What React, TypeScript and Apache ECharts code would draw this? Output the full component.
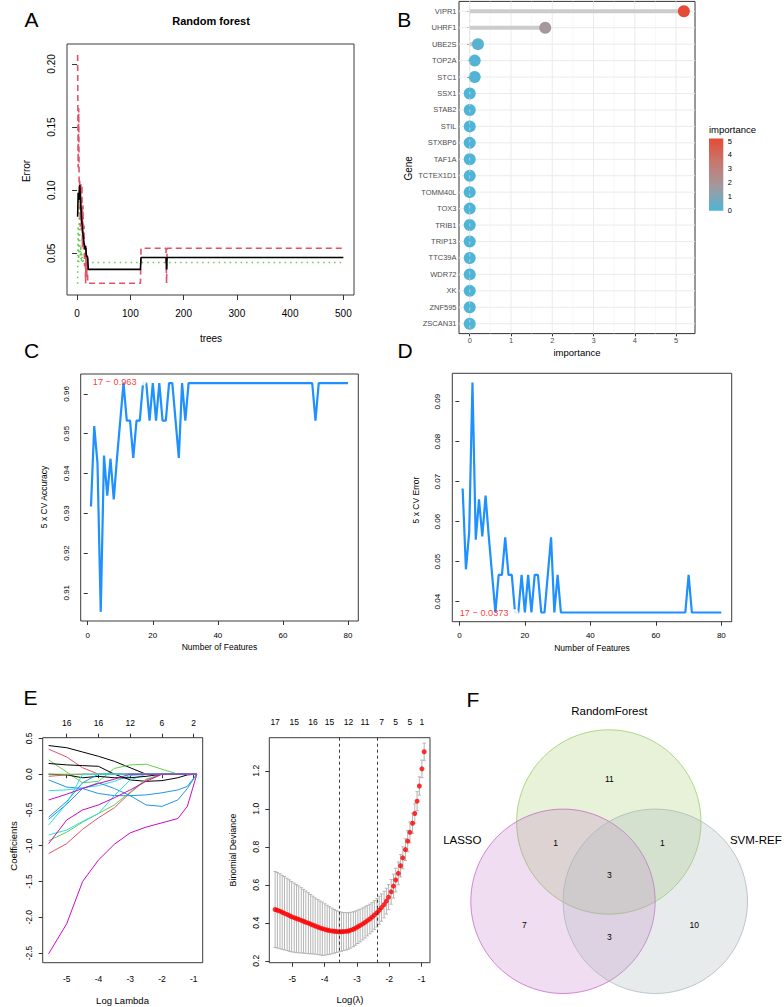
import React, { useEffect, useRef } from 'react';
import * as echarts from 'echarts';

const FONT = '"Liberation Sans", Arial, Helvetica, sans-serif';

// ---------- Panel A: random forest error ----------
const treesEarly = [1, 2, 3, 4, 5, 6, 7, 8, 9, 10, 11, 12, 13, 14, 15, 16, 17, 18, 19, 20, 21];
const oobEarly = [0.079, 0.098, 0.092, 0.097, 0.104, 0.095, 0.088, 0.080, 0.074, 0.070, 0.065, 0.062, 0.058, 0.056, 0.053, 0.056, 0.050, 0.047, 0.048, 0.046, 0.0373];
const class1Early = [0.207, 0.118, 0.165, 0.095, 0.108, 0.071, 0.105, 0.068, 0.104, 0.055, 0.088, 0.052, 0.072, 0.040, 0.056, 0.0263, 0.055, 0.030, 0.048, 0.0263, 0.0263];
const class2Early = [0.026, 0.072, 0.043, 0.095, 0.061, 0.048, 0.056, 0.043, 0.050, 0.043, 0.046, 0.0428, 0.0428, 0.0428, 0.0428, 0.0428, 0.0428, 0.0428, 0.0428, 0.0428, 0.0428];
const oobLate = [[21, 0.0373], [119, 0.0373], [120, 0.0467], [167, 0.0467], [168, 0.0373], [169, 0.0467], [500, 0.0467]];
const class1Late = [[21, 0.0263], [119, 0.0263], [120, 0.054], [167, 0.054], [168, 0.0263], [169, 0.054], [500, 0.054]];
const class2Late = [[21, 0.0428], [500, 0.0428]];
const treeTicks = [0, 100, 200, 300, 400, 500];
const errorTicks = [0.05, 0.10, 0.15, 0.20];

// ---------- Panel B: importance lollipop ----------
const genes = ['VIPR1', 'UHRF1', 'UBE2S', 'TOP2A', 'STC1', 'SSX1', 'STAB2', 'STIL', 'STXBP6', 'TAF1A', 'TCTEX1D1', 'TOMM40L', 'TOX3', 'TRIB1', 'TRIP13', 'TTC39A', 'WDR72', 'XK', 'ZNF595', 'ZSCAN31'];
const importance = [5.19, 1.83, 0.2, 0.12, 0.12, 0, 0, 0, 0, 0, 0, 0, 0, 0, 0, 0, 0, 0, 0, 0];
const importanceTicks = [0, 1, 2, 3, 4, 5];
const importanceMinor = [0.5, 1.5, 2.5, 3.5, 4.5];
const importanceColors = ['#4EB5D6', '#A3999E', '#C6786F', '#E64B35'];

// ---------- Panels C/D: SVM-RFE ----------
const nFeatures = Array.from({ length: 80 }, (_, i) => i + 1);
const cvAccuracy = [
  0.9317, 0.9519, 0.9426, 0.9052, 0.9445, 0.9344, 0.9437, 0.9335, 0.9439, 0.9533,
  0.9627, 0.9533, 0.9533, 0.9439, 0.9533, 0.9533, 0.9627, 0.9627, 0.9533, 0.9627,
  0.9533, 0.9627, 0.9533, 0.9533, 0.9627, 0.9627, 0.9533, 0.9439, 0.9627, 0.9533,
  0.9627, 0.9627, 0.9627, 0.9627, 0.9627, 0.9627, 0.9627, 0.9627, 0.9627, 0.9627,
  0.9627, 0.9627, 0.9627, 0.9627, 0.9627, 0.9627, 0.9627, 0.9627, 0.9627, 0.9627,
  0.9627, 0.9627, 0.9627, 0.9627, 0.9627, 0.9627, 0.9627, 0.9627, 0.9627, 0.9627,
  0.9627, 0.9627, 0.9627, 0.9627, 0.9627, 0.9627, 0.9627, 0.9627, 0.9627, 0.9533,
  0.9627, 0.9627, 0.9627, 0.9627, 0.9627, 0.9627, 0.9627, 0.9627, 0.9627, 0.9627,
];
const cvError = [
  0.0683, 0.0481, 0.0574, 0.0948, 0.0555, 0.0656, 0.0563, 0.0665, 0.0561, 0.0467,
  0.0373, 0.0467, 0.0467, 0.0561, 0.0467, 0.0467, 0.0373, 0.0373, 0.0467, 0.0373,
  0.0467, 0.0373, 0.0467, 0.0467, 0.0373, 0.0373, 0.0467, 0.0561, 0.0373, 0.0467,
  0.0373, 0.0373, 0.0373, 0.0373, 0.0373, 0.0373, 0.0373, 0.0373, 0.0373, 0.0373,
  0.0373, 0.0373, 0.0373, 0.0373, 0.0373, 0.0373, 0.0373, 0.0373, 0.0373, 0.0373,
  0.0373, 0.0373, 0.0373, 0.0373, 0.0373, 0.0373, 0.0373, 0.0373, 0.0373, 0.0373,
  0.0373, 0.0373, 0.0373, 0.0373, 0.0373, 0.0373, 0.0373, 0.0373, 0.0373, 0.0467,
  0.0373, 0.0373, 0.0373, 0.0373, 0.0373, 0.0373, 0.0373, 0.0373, 0.0373, 0.0373,
];
const bestN = 17;
const bestAccuracy = 0.963;
const bestError = 0.0373;
const featureTicks = [0, 20, 40, 60, 80];
const accuracyTicks = [0.91, 0.92, 0.93, 0.94, 0.95, 0.96];
const cvErrorTicks = [0.04, 0.05, 0.06, 0.07, 0.08, 0.09];

// ---------- Panel E left: LASSO coefficient paths ----------
const lassoLogLambda = [-5.57, -5, -4.5, -4, -3.5, -3, -2.5, -2, -1.5, -1.2, -0.9];
const lassoCoefs = [
  [0.40, 0.37, 0.31, 0.25, 0.18, 0.09, 0.00, 0, 0, 0, 0],
  [0.35, 0.24, 0.09, 0, 0, 0, 0, 0, 0, 0, 0],
  [0.20, 0.03, -0.12, -0.10, 0.08, 0.13, 0.14, 0.07, 0, 0, 0],
  [-0.08, -0.18, -0.20, -0.27, -0.30, -0.30, -0.29, -0.26, -0.22, -0.17, 0],
  [-0.23, -0.22, -0.19, -0.16, -0.10, -0.02, 0, 0, 0, 0, 0],
  [-2.51, -2.09, -1.50, -1.20, -0.98, -0.82, -0.74, -0.68, -0.62, -0.45, 0],
  [0.15, 0.13, 0.12, 0.11, 0.00, -0.08, -0.10, -0.09, -0.05, -0.01, 0],
  [-1.11, -0.97, -0.77, -0.61, -0.47, -0.26, -0.08, 0, 0, 0, 0],
  [-0.93, -0.81, -0.67, -0.55, -0.43, -0.25, -0.07, 0, 0, 0, 0],
  [-0.63, -0.42, -0.20, -0.12, -0.20, -0.30, -0.43, -0.45, -0.36, -0.20, 0],
  [-0.85, -0.78, -0.66, -0.55, -0.30, -0.08, 0, 0, 0, 0, 0],
  [-0.97, -0.64, -0.50, -0.43, -0.33, -0.22, -0.10, 0, 0, 0, 0],
  [0.00, -0.01, -0.05, -0.03, -0.05, -0.05, -0.03, 0, 0, 0, 0],
  [-0.03, -0.01, 0, 0, 0, 0, 0, 0, 0, 0, 0],
  [0, 0, 0, 0, 0, 0, 0, 0, 0, 0, 0],
  [-0.60, -0.38, -0.12, 0, 0, 0, 0, 0, 0, 0, 0],
  [-0.71, -0.41, 0, 0, 0, 0, 0, 0, 0, 0, 0],
  [-0.36, -0.28, -0.20, -0.13, -0.07, 0, 0, 0, 0, 0, 0],
];
const lassoColors = ['#000000', '#DF536B', '#61D04F', '#2297E6', '#28E2E5', '#CD0BBC'];
const lassoTicks = [-5, -4, -3, -2, -1];
const lassoTopLabels = ['16', '16', '12', '6', '2'];
const coefTicks = [-2.5, -2.0, -1.5, -1.0, -0.5, 0.0, 0.5];

// ---------- Panel E right: cv.glmnet deviance ----------
const cvLogLambda = [
  -5.53, -5.46, -5.38, -5.31, -5.24, -5.16, -5.09, -5.02, -4.94, -4.87,
  -4.80, -4.72, -4.65, -4.58, -4.50, -4.43, -4.36, -4.29, -4.21, -4.14,
  -4.07, -3.99, -3.92, -3.85, -3.77, -3.70, -3.63, -3.55, -3.48, -3.41,
  -3.33, -3.26, -3.19, -3.11, -3.04, -2.97, -2.90, -2.82, -2.75, -2.68,
  -2.60, -2.53, -2.46, -2.38, -2.31, -2.24, -2.16, -2.09, -2.02, -1.94,
  -1.87, -1.80, -1.72, -1.65, -1.58, -1.50, -1.43, -1.36, -1.28, -1.21,
  -1.14, -1.07, -0.99, -0.92,
];
const cvDeviance = [
  0.470, 0.466, 0.461, 0.455, 0.450, 0.444, 0.438, 0.432, 0.427, 0.422,
  0.418, 0.413, 0.408, 0.403, 0.398, 0.393, 0.388, 0.383, 0.378, 0.373,
  0.369, 0.365, 0.362, 0.359, 0.357, 0.355, 0.354, 0.353, 0.353, 0.354,
  0.355, 0.357, 0.361, 0.366, 0.372, 0.379, 0.386, 0.394, 0.402, 0.411,
  0.420, 0.430, 0.441, 0.453, 0.466, 0.480, 0.496, 0.514, 0.535, 0.563,
  0.593, 0.625, 0.660, 0.700, 0.742, 0.785, 0.830, 0.876, 0.924, 0.975,
  1.040, 1.120, 1.210, 1.300,
];
const cvDevianceSd = [
  0.200, 0.199, 0.197, 0.195, 0.193, 0.190, 0.188, 0.185, 0.182, 0.179,
  0.176, 0.172, 0.168, 0.164, 0.160, 0.156, 0.152, 0.148, 0.145, 0.142,
  0.140, 0.135, 0.130, 0.125, 0.120, 0.115, 0.110, 0.106, 0.103, 0.100,
  0.098, 0.096, 0.094, 0.092, 0.090, 0.088, 0.086, 0.084, 0.082, 0.080,
  0.078, 0.077, 0.076, 0.075, 0.074, 0.072, 0.070, 0.068, 0.066, 0.065,
  0.063, 0.062, 0.060, 0.059, 0.058, 0.057, 0.056, 0.055, 0.053, 0.051,
  0.050, 0.048, 0.046, 0.045,
];
const lambdaMinLog = -3.55;
const lambda1seLog = -2.38;
const cvTopPositions = [-5.53, -4.94, -4.36, -3.85, -3.26, -2.75, -2.24, -1.80, -1.36, -0.99];
const cvTopLabels = ['17', '15', '16', '15', '12', '11', '7', '5', '5', '1'];
const devianceTicks = [0.2, 0.4, 0.6, 0.8, 1.0, 1.2];

// ---------- Panel F: Venn ----------
const vennSets = ['RandomForest', 'LASSO', 'SVM-REF'];
const vennRegions = ['RF only', 'LASSO only', 'SVM only', 'RF&LASSO', 'RF&SVM', 'LASSO&SVM', 'all'];
const vennCounts = [11, 7, 10, 1, 1, 3, 3];

function buildOption() {
  const grids: any[] = [
    { left: 67, top: 44, width: 287, height: 251 }, // 0 A
    { left: 459, top: 1.4, width: 236, height: 332.2 }, // 1 B
    { left: 709, top: 138.4, width: 14.3, height: 72.3 }, // 2 colorbar
    { left: 80.7, top: 374, width: 277.6, height: 247 }, // 3 C
    { left: 452.3, top: 373.3, width: 279.4, height: 248.4 }, // 4 D
    { left: 42.7, top: 737.7, width: 160, height: 225 }, // 5 E left
    { left: 269.3, top: 737.7, width: 160.7, height: 225 }, // 6 E right
  ].map((g, i) => ({
    ...g,
    show: i !== 2,
    borderColor: i === 1 ? '#333' : '#3a3a3a',
    borderWidth: 1,
    backgroundColor: 'transparent',
    containLabel: false,
  }));

  const rAxis = (kind: 'x' | 'y', gridIndex: number, min: number, max: number, ticks: number[], fmt: (v: number) => string, o: any = {}) => ({
    type: 'value',
    gridIndex,
    min,
    max,
    position: o.position,
    inverse: o.inverse || false,
    axisLine: { show: false },
    axisTick: {
      show: o.tick !== false,
      customValues: ticks,
      length: o.tickLen ?? 4,
      inside: o.tickInside || false,
      lineStyle: { color: o.tickColor || '#333', width: 1 },
    },
    axisLabel: {
      show: o.label !== false,
      customValues: ticks,
      formatter: fmt,
      fontSize: o.fontSize ?? 10,
      color: o.color || '#000',
      fontFamily: FONT,
      margin: o.margin ?? 8,
      rotate: o.rotate || 0,
    },
    splitLine: { show: false },
  });

  const xAxes: any[] = [
    rAxis('x', 0, -18.96, 519.96, treeTicks, (v) => String(v), { tickLen: 5, margin: 13, fontSize: 10 }), // 0
    rAxis('x', 1, -0.26, 5.46, importanceTicks, (v) => String(v), { tickLen: 2.75, margin: 2.5, fontSize: 7.5, color: '#4D4D4D' }), // 1
    { type: 'category', gridIndex: 2, data: ['importance'], show: false, boundaryGap: true }, // 2
    rAxis('x', 3, -2.16, 83.16, featureTicks, (v) => String(v), { tickLen: 4, margin: 10, fontSize: 8 }), // 3
    rAxis('x', 4, -2.16, 83.16, featureTicks, (v) => String(v), { tickLen: 4, margin: 10, fontSize: 8 }), // 4
    rAxis('x', 5, -5.757, -0.716, lassoTicks, (v) => String(v), { tickLen: 4, margin: 12, fontSize: 8.5 }), // 5
    rAxis('x', 5, -5.757, -0.716, lassoTicks, (v) => lassoTopLabels[lassoTicks.indexOf(v)] ?? '', { position: 'top', tickLen: 4, margin: 10, fontSize: 8.5 }), // 6
    rAxis('x', 6, -5.71, -0.74, lassoTicks, (v) => String(v), { tickLen: 4, margin: 12, fontSize: 8.5 }), // 7
    rAxis('x', 6, -5.71, -0.74, cvTopPositions, (v) => cvTopLabels[cvTopPositions.indexOf(v)] ?? '', { position: 'top', tick: false, margin: 11, fontSize: 8.5 }), // 8
  ];

  const yAxes: any[] = [
    rAxis('y', 0, 0.017, 0.2158, errorTicks, (v) => v.toFixed(2), { tickLen: 5, margin: 11, rotate: 90, fontSize: 10 }), // 0
    rAxis('y', 1, 0.4, 20.6, genes.map((_, i) => i + 1), (v) => genes[v - 1] ?? '', { inverse: true, tickLen: 2.75, margin: 2.5, fontSize: 7.5, color: '#4D4D4D' }), // 1
    rAxis('y', 2, 0, 5.19, importanceTicks, (v) => String(v), { position: 'right', tickInside: true, tickLen: 2.8, tickColor: '#fff', margin: 4.5, fontSize: 7.5, color: '#000' }), // 2
    rAxis('y', 2, 0, 5.19, importanceTicks, () => '', { position: 'left', tickInside: true, tickLen: 2.8, tickColor: '#fff', label: false }), // 3
    rAxis('y', 3, 0.9029, 0.9650, accuracyTicks, (v) => v.toFixed(2), { tickLen: 4, margin: 10, rotate: 90, fontSize: 8 }), // 4
    rAxis('y', 4, 0.0350, 0.0971, cvErrorTicks, (v) => v.toFixed(2), { tickLen: 4, margin: 10.5, rotate: 90, fontSize: 8 }), // 5
    rAxis('y', 5, -2.635, 0.51, coefTicks, (v) => v.toFixed(1), { tickLen: 4, margin: 9.5, rotate: 90, fontSize: 8.5 }), // 6
    rAxis('y', 6, 0.19, 1.374, devianceTicks, (v) => v.toFixed(1), { tickLen: 4, margin: 9, rotate: 90, fontSize: 8.5 }), // 7
  ];

  const series: any[] = [];

  // ----- A -----
  series.push({
    type: 'line', xAxisIndex: 0, yAxisIndex: 0, showSymbol: false, symbol: 'none',
    data: treesEarly.map((t, i) => [t, class2Early[i]]).concat(class2Late),
    lineStyle: { color: '#61D04F', width: 1.6, type: [1.5, 4] }, z: 2,
  });
  series.push({
    type: 'line', xAxisIndex: 0, yAxisIndex: 0, showSymbol: false, symbol: 'none',
    data: treesEarly.map((t, i) => [t, class1Early[i]]).concat(class1Late),
    lineStyle: { color: '#DF536B', width: 1.6, type: [6, 4] }, z: 3,
  });
  series.push({
    type: 'line', xAxisIndex: 0, yAxisIndex: 0, showSymbol: false, symbol: 'none',
    data: treesEarly.map((t, i) => [t, oobEarly[i]]).concat(oobLate),
    lineStyle: { color: '#000', width: 1.6 }, z: 4,
  });

  // ----- B -----
  const vGrid = (vals: number[], color: string, w: number) => ({
    type: 'custom', xAxisIndex: 1, yAxisIndex: 1, silent: true, z: 1,
    data: vals.map((v) => [v, 1]),
    renderItem: (params: any, api: any) => {
      const x = api.coord([api.value(0), 1])[0];
      const cs = params.coordSys;
      return { type: 'line', shape: { x1: x, y1: cs.y, x2: x, y2: cs.y + cs.height }, style: { stroke: color, lineWidth: w } };
    },
  });
  series.push(vGrid(importanceMinor, '#F2F2F2', 0.6));
  series.push(vGrid(importanceTicks, '#EBEBEB', 1));
  series.push({
    type: 'custom', xAxisIndex: 1, yAxisIndex: 1, silent: true, z: 1,
    data: genes.map((_, i) => [0, i + 1]),
    renderItem: (params: any, api: any) => {
      const y = api.coord([0, api.value(1)])[1];
      const cs = params.coordSys;
      return { type: 'line', shape: { x1: cs.x, y1: y, x2: cs.x + cs.width, y2: y }, style: { stroke: '#EBEBEB', lineWidth: 1 } };
    },
  });
  series.push({
    type: 'custom', xAxisIndex: 1, yAxisIndex: 1, silent: true, z: 2,
    data: importance.map((v, i) => [v, i + 1]),
    renderItem: (params: any, api: any) => {
      const s = api.coord([0, api.value(1)]);
      const e = api.coord([api.value(0), api.value(1)]);
      return { type: 'line', shape: { x1: s[0], y1: s[1], x2: e[0], y2: e[1] }, style: { stroke: '#CCCCCC', lineWidth: 4 } };
    },
  });
  const bScatterIndex = series.length;
  series.push({
    type: 'scatter', xAxisIndex: 1, yAxisIndex: 1, symbolSize: 12, z: 3,
    data: importance.map((v, i) => [v, i + 1]),
    itemStyle: { opacity: 1 },
  });
  series.push({
    type: 'custom', xAxisIndex: 1, yAxisIndex: 1, silent: true, z: 4,
    data: [[0, 1]],
    renderItem: (params: any, api: any) => {
      const x = api.coord([0, 1])[0];
      const cs = params.coordSys;
      return { type: 'line', shape: { x1: x, y1: cs.y, x2: x, y2: cs.y + cs.height }, style: { stroke: 'rgba(220,220,220,0.9)', lineWidth: 0.8, lineDash: [3, 3] } };
    },
  });
  // colorbar
  series.push({
    type: 'bar', xAxisIndex: 2, yAxisIndex: 2, barWidth: '100%', silent: true,
    data: [5.19],
    itemStyle: {
      color: new echarts.graphic.LinearGradient(0, 1, 0, 0, importanceColors.map((c, i) => ({ offset: i / (importanceColors.length - 1), color: c }))),
    },
    z: 1,
  });

  // ----- C -----
  series.push({
    type: 'line', xAxisIndex: 3, yAxisIndex: 4, showSymbol: false, symbol: 'none',
    data: nFeatures.map((n, i) => [n, cvAccuracy[i]]),
    lineStyle: { color: '#1E90FF', width: 2.2 },
  });
  series.push({
    type: 'scatter', xAxisIndex: 3, yAxisIndex: 4, symbol: 'emptyCircle', symbolSize: 5,
    data: [[bestN, bestAccuracy]],
    itemStyle: { color: '#fff', borderColor: '#FF0000', borderWidth: 0.8 },
    label: { show: true, position: 'left', distance: 3, formatter: `${bestN} \u2212 ${bestAccuracy}`, color: '#FF0000', fontSize: 9.2, fontFamily: FONT },
    z: 5,
  });

  // ----- D -----
  series.push({
    type: 'line', xAxisIndex: 4, yAxisIndex: 5, showSymbol: false, symbol: 'none',
    data: nFeatures.map((n, i) => [n, cvError[i]]),
    lineStyle: { color: '#1E90FF', width: 2.2 },
  });
  series.push({
    type: 'scatter', xAxisIndex: 4, yAxisIndex: 5, symbol: 'emptyCircle', symbolSize: 5,
    data: [[bestN, bestError]],
    itemStyle: { color: '#fff', borderColor: '#FF0000', borderWidth: 0.8 },
    label: { show: true, position: 'left', distance: 3, formatter: `${bestN} \u2212 ${bestError}`, color: '#FF0000', fontSize: 9.2, fontFamily: FONT },
    z: 5,
  });

  // ----- E left -----
  lassoCoefs.forEach((coefs, i) => {
    series.push({
      type: 'line', xAxisIndex: 5, yAxisIndex: 6, showSymbol: false, symbol: 'none',
      data: lassoLogLambda.map((x, j) => [x, coefs[j]]),
      lineStyle: { color: lassoColors[i % lassoColors.length], width: 1 },
      z: 2 + i * 0.01,
    });
  });

  // ----- E right -----
  series.push({
    type: 'custom', xAxisIndex: 7, yAxisIndex: 7, silent: true, z: 2,
    data: cvLogLambda.map((x, i) => [x, cvDeviance[i] - cvDevianceSd[i], cvDeviance[i] + cvDevianceSd[i]]),
    renderItem: (params: any, api: any) => {
      const lo = api.coord([api.value(0), api.value(1)]);
      const hi = api.coord([api.value(0), api.value(2)]);
      const w = 1.6;
      const st = { stroke: '#B4B4B4', lineWidth: 1 };
      return {
        type: 'group',
        children: [
          { type: 'line', shape: { x1: lo[0], y1: lo[1], x2: hi[0], y2: hi[1] }, style: st },
          { type: 'line', shape: { x1: lo[0] - w, y1: lo[1], x2: lo[0] + w, y2: lo[1] }, style: st },
          { type: 'line', shape: { x1: hi[0] - w, y1: hi[1], x2: hi[0] + w, y2: hi[1] }, style: st },
        ],
      };
    },
  });
  series.push({
    type: 'scatter', xAxisIndex: 7, yAxisIndex: 7, symbolSize: 5, z: 3,
    data: cvLogLambda.map((x, i) => [x, cvDeviance[i]]),
    itemStyle: { color: '#FF0000' },
  });
  series.push({
    type: 'line', xAxisIndex: 7, yAxisIndex: 7, data: [], z: 4,
    markLine: {
      silent: true, symbol: 'none', animation: false,
      label: { show: false },
      lineStyle: { color: '#222', type: [3, 3], width: 0.9 },
      data: [{ xAxis: lambdaMinLog }, { xAxis: lambda1seLog }],
    },
  });

  // ----- graphic texts -----
  const txt = (text: string, x: number, y: number, fontSize: number, o: any = {}) => ({
    type: 'text', x, y, rotation: o.rotate ? Math.PI / 2 : 0, silent: true,
    style: {
      text, fontSize, fontFamily: o.family || FONT, fontWeight: o.bold ? 'bold' : 'normal',
      fill: o.color || '#000', align: o.align || 'center', verticalAlign: 'middle',
    },
    z: 100,
  });

  const graphics: any[] = [
    txt('A', 31.5, 19, 21), txt('B', 404.3, 19, 21), txt('C', 31.7, 350.5, 21),
    txt('D', 405, 350.7, 21), txt('E', 30.5, 697.5, 21), txt('F', 472.8, 699, 21),
    txt('Random forest', 211, 21, 11, { bold: true }),
    txt('Error', 26, 171, 10, { rotate: true }),
    txt('trees', 211, 338, 10),
    txt('Gene', 408.3, 168.3, 10, { rotate: true }),
    txt('importance', 577, 352, 9.5),
    txt('importance', 709, 129.5, 9.5, { align: 'left' }),
    txt('5 x CV Accuracy', 43.7, 497, 8.5, { rotate: true }),
    txt('Number of Features', 219.5, 647, 8.5),
    txt('5 x CV Error', 416, 500, 8.5, { rotate: true }),
    txt('Number of Features', 592, 648, 8.5),
    txt('Coefficients', 13.3, 846, 9.5, { rotate: true }),
    txt('Log Lambda', 122.5, 1000.5, 9.5),
    txt('Binomial Deviance', 233.3, 850, 8.8, { rotate: true }),
    txt('Log(\u03bb)', 350, 999.3, 9.5),
  ];

  // Venn
  const vennCircles = [
    { cx: 608.8, cy: 822, fill: 'rgba(166,208,110,0.27)', stroke: 'rgba(150,200,90,0.7)' },
    { cx: 563, cy: 901.3, fill: 'rgba(190,100,195,0.22)', stroke: 'rgba(195,100,198,0.75)' },
    { cx: 655.3, cy: 901.3, fill: 'rgba(168,181,186,0.27)', stroke: 'rgba(165,178,185,0.7)' },
  ];
  vennCircles.forEach((c) => {
    graphics.push({ type: 'circle', shape: { cx: c.cx, cy: c.cy, r: 92.2 }, style: { fill: c.fill, stroke: c.stroke, lineWidth: 1 }, z: 50, silent: true });
  });
  const vennLabelPos = [[609.3, 711], [462.3, 840], [755.8, 840]];
  vennSets.forEach((s, i) => graphics.push(txt(s, vennLabelPos[i][0], vennLabelPos[i][1], 11.5)));
  const vennCountPos = [[609.3, 779.3], [524.3, 925], [694.3, 925], [555.7, 843.3], [662.3, 843.3], [609.3, 936.7], [609.3, 874.7]];
  vennRegions.forEach((_, i) => graphics.push(txt(String(vennCounts[i]), vennCountPos[i][0], vennCountPos[i][1], 8.5)));

  return {
    animation: false,
    backgroundColor: '#fff',
    textStyle: { fontFamily: FONT },
    grid: grids,
    xAxis: xAxes,
    yAxis: yAxes,
    visualMap: [{
      type: 'continuous', show: false, seriesIndex: bScatterIndex, dimension: 0,
      min: 0, max: 5.19, inRange: { color: importanceColors },
    }],
    series,
    graphic: graphics,
  };
}

export default function App() {
  const ref = useRef<HTMLDivElement>(null);
  useEffect(() => {
    if (!ref.current) return;
    const chart = echarts.init(ref.current, undefined, { renderer: 'svg' });
    chart.setOption(buildOption() as any);
    return () => chart.dispose();
  }, []);
  return <div ref={ref} style={{ position: 'absolute', left: 0, top: 0, width: 784, height: 1007 }} />;
}
